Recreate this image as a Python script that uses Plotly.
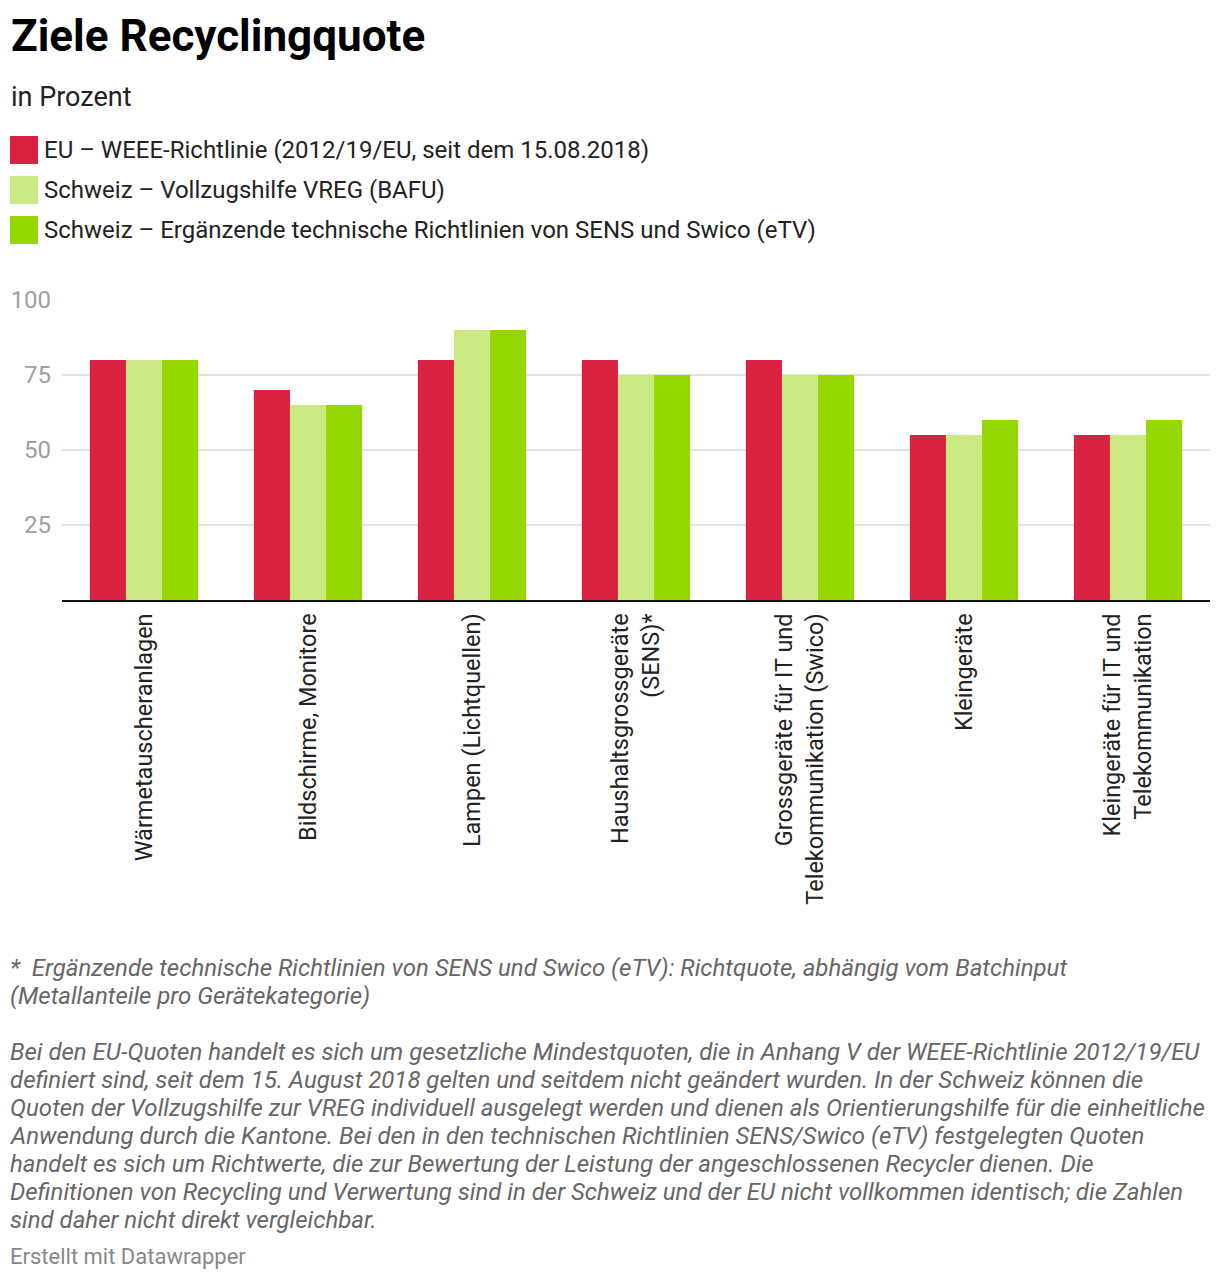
import plotly.graph_objects as go

categories = [
    "Wärmetauscheranlagen",
    "Bildschirme, Monitore",
    "Lampen (Lichtquellen)",
    "Haushaltsgrossgeräte<br>(SENS)*",
    "Grossgeräte für IT und<br>Telekommunikation (Swico)",
    "Kleingeräte",
    "Kleingeräte für IT und<br>Telekommunikation",
]
series_names = [
    "EU – WEEE-Richtlinie (2012/19/EU, seit dem 15.08.2018)",
    "Schweiz – Vollzugshilfe VREG (BAFU)",
    "Schweiz – Ergänzende technische Richtlinien von SENS und Swico (eTV)",
]
eu_values = [80, 70, 80, 80, 80, 55, 55]
vreg_values = [80, 65, 90, 75, 75, 55, 55]
etv_values = [80, 65, 90, 75, 75, 60, 60]
y_ticks = [25, 50, 75, 100]

colors = ["#da213f", "#cbe983", "#97d700"]

title = "Ziele Recyclingquote"
subtitle = "in Prozent"
footnote_lines = [
    "*  Ergänzende technische Richtlinien von SENS und Swico (eTV): Richtquote, abhängig vom Batchinput",
    "(Metallanteile pro Gerätekategorie)",
]
notes_lines = [
    "Bei den EU-Quoten handelt es sich um gesetzliche Mindestquoten, die in Anhang V der WEEE-Richtlinie 2012/19/EU",
    "definiert sind, seit dem 15. August 2018 gelten und seitdem nicht geändert wurden. In der Schweiz können die",
    "Quoten der Vollzugshilfe zur VREG individuell ausgelegt werden und dienen als Orientierungshilfe für die einheitliche",
    "Anwendung durch die Kantone. Bei den in den technischen Richtlinien SENS/Swico (eTV) festgelegten Quoten",
    "handelt es sich um Richtwerte, die zur Bewertung der Leistung der angeschlossenen Recycler dienen. Die",
    "Definitionen von Recycling und Verwertung sind in der Schweiz und der EU nicht vollkommen identisch; die Zahlen",
    "sind daher nicht direkt vergleichbar.",
]
credit = "Erstellt mit Datawrapper"

W, H = 1220, 1282
ML, MR, MT, MB = 62, 10, 300, 682
PW = W - ML - MR
PH = H - MT - MB


def px(x):
    return (x - ML) / PW


def py(y):
    return (H - MB - y) / PH


FONT = "Roboto, 'Open Sans', sans-serif"

fig = go.Figure()
for name, vals, col in zip(series_names, [eu_values, vreg_values, etv_values], colors):
    fig.add_trace(go.Bar(x=categories, y=vals, name=name, marker=dict(color=col, line=dict(width=0)),
                         showlegend=False))

annotations = []
shapes = []

annotations.append(dict(text=f"<b>{title}</b>", x=px(9), y=py(36), xref="paper", yref="paper",
                        xanchor="left", yanchor="middle", showarrow=False,
                        font=dict(family=FONT, size=44, color="#000000")))
annotations.append(dict(text=subtitle, x=px(9), y=py(97), xref="paper", yref="paper",
                        xanchor="left", yanchor="middle", showarrow=False,
                        font=dict(family=FONT, size=27, color="#222222")))

for i, (name, col) in enumerate(zip(series_names, colors)):
    yc = 150 + 40 * i
    shapes.append(dict(type="rect", xref="paper", yref="paper", x0=px(10), x1=px(38),
                       y0=py(yc - 14), y1=py(yc + 14), fillcolor=col, line=dict(width=0)))
    annotations.append(dict(text=name, x=px(42), y=py(yc), xref="paper", yref="paper",
                            xanchor="left", yanchor="middle", showarrow=False,
                            font=dict(family=FONT, size=24, color="#222222")))

for i, line in enumerate(footnote_lines):
    annotations.append(dict(text=f"<i>{line}</i>", x=px(8), y=py(968 + 28 * i), xref="paper", yref="paper",
                            xanchor="left", yanchor="middle", showarrow=False,
                            font=dict(family=FONT, size=24, color="#666666")))
for i, line in enumerate(notes_lines):
    annotations.append(dict(text=f"<i>{line}</i>", x=px(8), y=py(1052 + 28 * i), xref="paper", yref="paper",
                            xanchor="left", yanchor="middle", showarrow=False,
                            font=dict(family=FONT, size=24, color="#666666")))
annotations.append(dict(text=credit, x=px(8), y=py(1256), xref="paper", yref="paper",
                        xanchor="left", yanchor="middle", showarrow=False,
                        font=dict(family=FONT, size=22, color="#888888")))

fig.update_layout(
    width=W, height=H,
    margin=dict(l=ML, r=MR, t=MT, b=MB, autoexpand=False),
    paper_bgcolor="white", plot_bgcolor="white",
    barmode="group", bargap=0.34, bargroupgap=0,
    font=dict(family=FONT),
    annotations=annotations, shapes=shapes,
    showlegend=False,
)
fig.update_yaxes(range=[0, 100], tickvals=y_ticks, showgrid=True, gridcolor="#e3e3e3", gridwidth=2,
                 zeroline=False, showline=False, ticks="",
                 tickfont=dict(family=FONT, size=24, color="#a0a0a0"), ticklabelstandoff=10)
fig.update_xaxes(showline=True, linecolor="#111111", linewidth=2, ticks="", tickangle=-90,
                 tickfont=dict(family=FONT, size=23.5, color="#222222"), ticklabelstandoff=2)

fig.write_html("out.html")
